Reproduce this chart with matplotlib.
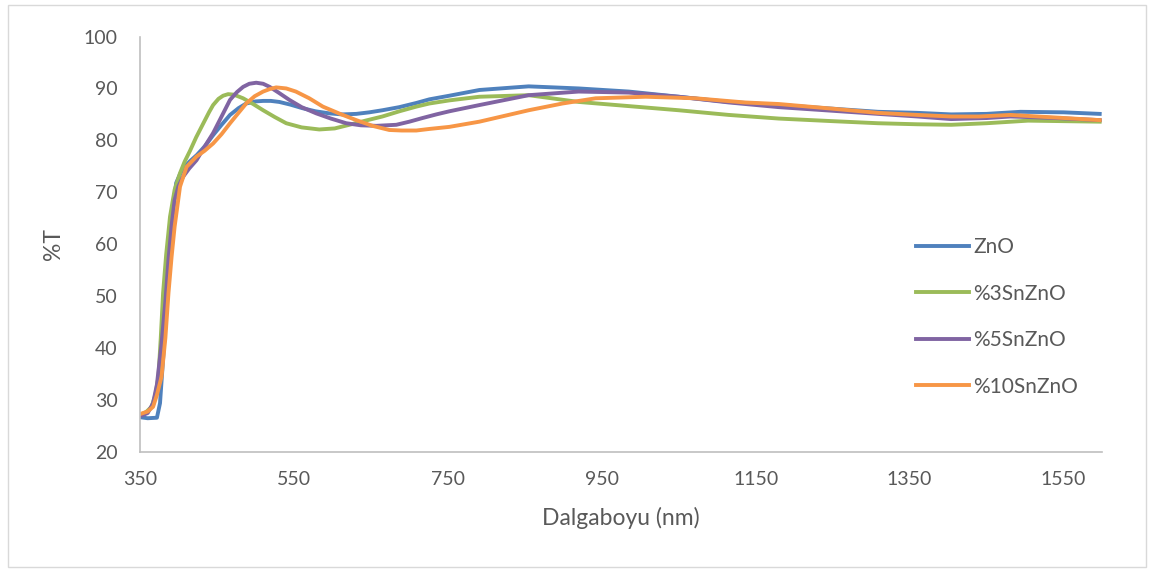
import matplotlib
matplotlib.use("Agg")
import matplotlib.pyplot as plt
from matplotlib.patches import Rectangle

# values (wavelength nm, %T)
zno_x = [350, 360, 372, 376, 381, 385, 391, 397, 402, 408, 415, 424, 435, 445, 456, 467,
         478, 488, 500, 510, 520, 531, 545, 561, 578, 596, 613, 631, 648, 665, 687, 709,
         726, 752, 791, 855, 920, 985, 1050, 1115, 1192, 1250, 1309, 1360, 1404, 1450,
         1494, 1550, 1597]
zno_y = [26.7, 26.5, 26.6, 29.4, 40.0, 50.6, 64.7, 71.8, 73.5, 74.9, 76.0, 77.2, 79.0,
         81.0, 83.0, 84.9, 86.2, 87.1, 87.5, 87.6, 87.6, 87.4, 86.9, 86.2, 85.6, 85.2,
         85.0, 85.1, 85.4, 85.8, 86.4, 87.2, 87.9, 88.6, 89.7, 90.4, 90.0, 89.4, 88.4,
         87.4, 86.7, 86.1, 85.5, 85.3, 85.0, 85.1, 85.5, 85.4, 85.1]

sn3_x = [350, 358, 365, 370, 374, 377, 380, 384, 389, 395, 402, 408, 415, 423, 432, 440,
         445, 452, 458, 464.5, 472, 484, 497, 510, 525, 540, 560, 583, 603, 622, 643, 665,
         687, 709, 726, 752, 791, 855, 920, 985, 1050, 1115, 1180, 1250, 1309, 1360,
         1404, 1450, 1504, 1550, 1597]
sn3_y = [27.1, 27.7, 28.7, 31.0, 34.5, 42.0, 50.6, 58.0, 65.3, 70.5, 73.7, 75.9, 78.0,
         80.6, 83.2, 85.5, 86.8, 88.0, 88.6, 88.9, 88.8, 88.1, 87.0, 85.8, 84.5, 83.3,
         82.5, 82.1, 82.3, 83.0, 83.8, 84.6, 85.6, 86.5, 87.1, 87.7, 88.4, 88.7, 87.4,
         86.6, 85.8, 84.9, 84.2, 83.7, 83.3, 83.1, 83.0, 83.3, 83.8, 83.7, 83.6]

sn5_x = [350, 360, 367, 372, 378, 383, 387, 391, 395, 400, 406, 414, 423.5, 434, 445, 456,
         467, 476, 484, 492, 501, 510, 518.5, 530, 544, 560, 579, 598, 618, 637, 657, 683,
         700, 717, 735, 752, 791, 855, 920, 985, 1050, 1115, 1180, 1250, 1309, 1360,
         1404, 1450, 1481, 1540, 1597]
sn5_y = [26.9, 27.5, 29.4, 33.0, 40.9, 49.0, 57.0, 63.5, 68.5, 71.2, 73.0, 74.6, 76.2,
         78.8, 81.4, 84.6, 87.8, 89.3, 90.3, 90.9, 91.1, 90.9, 90.3, 89.2, 87.8, 86.4,
         85.2, 84.2, 83.3, 82.9, 82.8, 83.0, 83.6, 84.3, 85.0, 85.6, 86.8, 88.7, 89.4,
         89.2, 88.4, 87.3, 86.4, 85.7, 85.1, 84.6, 84.1, 84.3, 84.6, 84.3, 83.9]

sn10_x = [350, 360, 367, 372, 378, 383, 387, 391, 395, 402, 410.5, 423.5, 434, 445, 456,
          467, 478, 488, 499, 510, 519, 527, 540, 552.5, 570, 587.6, 610, 631, 652, 674,
          690, 709, 726, 752, 791, 855, 899, 942, 1007, 1072, 1136, 1180, 1250, 1309,
          1360, 1404, 1440, 1481, 1540, 1597]
sn10_y = [27.3, 27.8, 28.7, 31.0, 34.5, 42.0, 50.6, 57.5, 63.4, 71.1, 74.9, 76.9, 78.0,
          79.4, 81.2, 83.3, 85.3, 87.1, 88.5, 89.4, 89.9, 90.2, 90.0, 89.4, 88.1, 86.5,
          85.1, 83.9, 82.8, 82.0, 81.9, 81.9, 82.2, 82.6, 83.6, 85.8, 87.1, 88.1, 88.4,
          88.1, 87.3, 87.0, 86.1, 85.3, 84.9, 84.6, 84.6, 84.9, 84.4, 83.9]

x_ticks = [350, 550, 750, 950, 1150, 1350, 1550]
y_ticks = [20, 30, 40, 50, 60, 70, 80, 90, 100]

plt.rcParams['font.family'] = ['Lato', 'DejaVu Sans']
text_color = "#595959"

fig = plt.figure(figsize=(11.54, 5.72), dpi=100)
fig.patches.append(Rectangle((8 / 1154, 5 / 572), 1138 / 1154, 562 / 572,
                             transform=fig.transFigure, fill=False,
                             edgecolor="#D9D9D9", lw=1))
ax = fig.add_axes([140 / 1154, 1 - 452 / 572, 962 / 1154, 415.5 / 572])

lw = 2.8
ax.plot(zno_x, zno_y, color="#4F81BD", lw=lw, label="ZnO", solid_joinstyle="round")
ax.plot(sn3_x, sn3_y, color="#9BBB59", lw=lw, label="%3SnZnO", solid_joinstyle="round")
ax.plot(sn5_x, sn5_y, color="#8064A2", lw=lw, label="%5SnZnO", solid_joinstyle="round")
ax.plot(sn10_x, sn10_y, color="#F79646", lw=lw, label="%10SnZnO", solid_joinstyle="round")

ax.set_xlim(350, 1600)
ax.set_ylim(20, 100)
ax.set_xticks(x_ticks)
ax.set_yticks(y_ticks)
ax.tick_params(length=0, labelsize=14, colors=text_color)
ax.tick_params(axis="y", pad=16)
ax.tick_params(axis="x", pad=14)
for s in ["top", "right"]:
    ax.spines[s].set_visible(False)
for s in ["left", "bottom"]:
    ax.spines[s].set_color("#BFBFBF")
    ax.spines[s].set_linewidth(1.2)

ax.set_xlabel("Dalgaboyu (nm)", fontsize=16.5, color=text_color, labelpad=13)
ax.set_ylabel("%T", fontsize=16.5, color=text_color, labelpad=14)

ax.legend(loc="upper left", bbox_to_anchor=(0.787, 0.562), frameon=False,
          fontsize=15, labelcolor=text_color, handlelength=2.55,
          handletextpad=0.2, labelspacing=1.27)

fig.savefig("out.png", dpi=100)
